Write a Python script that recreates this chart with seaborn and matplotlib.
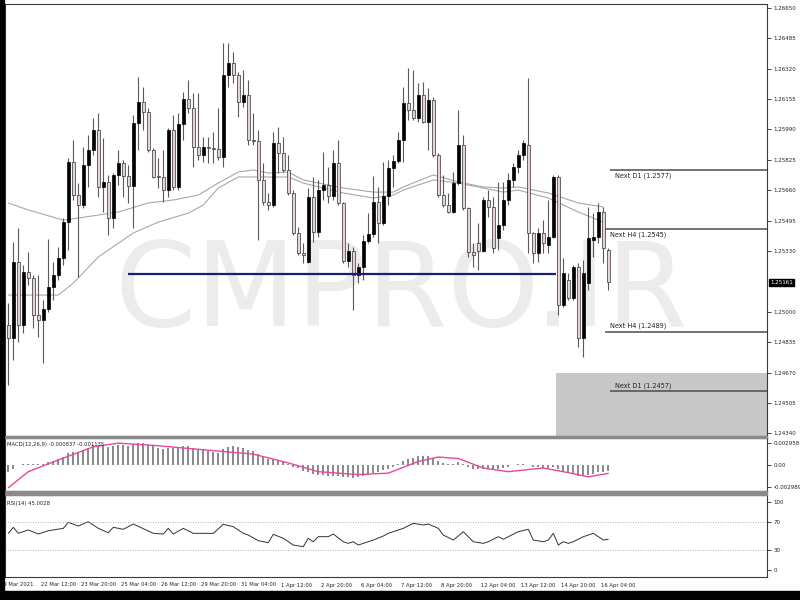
import numpy as np
import matplotlib
matplotlib.use("Agg")
import matplotlib.pyplot as plt
import matplotlib.transforms as mtransforms
from matplotlib import font_manager
from matplotlib.patches import Rectangle
import seaborn as sns

# --- H4 candles, 19 Mar 08:00 .. 16 Apr 08:00 ---
opens = [1.24928, 1.24858, 1.25270, 1.24928, 1.25216, 1.25184, 1.24983, 1.24955, 1.25015, 1.25135,
         1.25200, 1.25292, 1.25488, 1.25813, 1.25634, 1.25580, 1.25797, 1.25878, 1.25987, 1.25678,
         1.25705, 1.25509, 1.25743, 1.25808, 1.25737, 1.25683, 1.26025, 1.26139, 1.26085, 1.25878,
         1.25737, 1.25732, 1.25661, 1.25987, 1.25678, 1.26020, 1.26155, 1.26107, 1.25895, 1.25851,
         1.25895, 1.25889, 1.25884, 1.25841, 1.26286, 1.26351, 1.26286, 1.26139, 1.26177, 1.25933,
         1.25927, 1.25716, 1.25596, 1.25580, 1.25917, 1.25862, 1.25770, 1.25645, 1.25428, 1.25319,
         1.25270, 1.25623, 1.25433, 1.25661, 1.25688, 1.25629, 1.25808, 1.25591, 1.25276, 1.25330,
         1.25200, 1.25243, 1.25384, 1.25422, 1.25596, 1.25482, 1.25629, 1.25781, 1.25819, 1.25933,
         1.26134, 1.26096, 1.26052, 1.26177, 1.26031, 1.26150, 1.25851, 1.25634, 1.25580, 1.25542,
         1.25699, 1.25906, 1.25564, 1.25325, 1.25373, 1.25330, 1.25607, 1.25569, 1.25401, 1.25471,
         1.25607, 1.25716, 1.25786, 1.25851, 1.25906, 1.25428, 1.25319, 1.25428, 1.25363, 1.25406,
         1.25732, 1.25037, 1.25173, 1.25075, 1.25243, 1.24858, 1.25156, 1.25390, 1.25406, 1.25542, 1.25336]
highs = [1.25048, 1.25379, 1.25455, 1.25254, 1.25325, 1.25200, 1.25200, 1.25064, 1.25395, 1.25270,
         1.25352, 1.25509, 1.25835, 1.25933, 1.25699, 1.25895, 1.25960, 1.26052, 1.26079, 1.25944,
         1.25743, 1.25754, 1.25878, 1.25824, 1.25797, 1.26069, 1.26275, 1.26221, 1.26107, 1.25889,
         1.25835, 1.25878, 1.25998, 1.26069, 1.26079, 1.26193, 1.26259, 1.26188, 1.26188, 1.25949,
         1.25949, 1.25976, 1.26107, 1.26460, 1.26460, 1.26411, 1.26302, 1.26313, 1.26259, 1.26079,
         1.25987, 1.25808, 1.25645, 1.25976, 1.26003, 1.25949, 1.25851, 1.25661, 1.25460, 1.25373,
         1.25672, 1.25732, 1.25716, 1.25868, 1.25786, 1.25878, 1.25933, 1.25596, 1.25373, 1.25352,
         1.25265, 1.25417, 1.25537, 1.25737, 1.25678, 1.25813, 1.25824, 1.25851, 1.25976, 1.26221,
         1.26324, 1.26313, 1.26242, 1.26248, 1.26215, 1.26166, 1.25862, 1.25743, 1.25645, 1.25759,
         1.26096, 1.25960, 1.25569, 1.25373, 1.25482, 1.25623, 1.25661, 1.25623, 1.25705, 1.25705,
         1.25754, 1.25808, 1.25878, 1.25933, 1.26270, 1.25433, 1.25455, 1.25498, 1.25607, 1.25743,
         1.25743, 1.25292, 1.25211, 1.25254, 1.25265, 1.25281, 1.25569, 1.25537, 1.25591, 1.25569, 1.25347]
lows = [1.24602, 1.24738, 1.24836, 1.24885, 1.25145, 1.24912, 1.24863, 1.24722, 1.24999, 1.25064,
        1.25173, 1.25254, 1.25336, 1.25607, 1.25189, 1.25564, 1.25678, 1.25851, 1.25623, 1.25542,
        1.25417, 1.25455, 1.25688, 1.25623, 1.25591, 1.25455, 1.25878, 1.25987, 1.25868, 1.25727,
        1.25672, 1.25596, 1.25623, 1.25661, 1.25661, 1.25933, 1.26079, 1.25786, 1.25824, 1.25813,
        1.25808, 1.25808, 1.25824, 1.25786, 1.26221, 1.26242, 1.26058, 1.26112, 1.25906, 1.25906,
        1.25390, 1.25580, 1.25553, 1.25569, 1.25754, 1.25759, 1.25634, 1.25417, 1.25308, 1.25265,
        1.25265, 1.25379, 1.25406, 1.25607, 1.25591, 1.25607, 1.25580, 1.25265, 1.25243, 1.25010,
        1.25156, 1.25173, 1.25373, 1.25406, 1.25373, 1.25471, 1.25580, 1.25678, 1.25808, 1.25813,
        1.26041, 1.26041, 1.26031, 1.26025, 1.25878, 1.25841, 1.25623, 1.25569, 1.25537, 1.25537,
        1.25688, 1.25553, 1.25298, 1.25243, 1.25227, 1.25325, 1.25515, 1.25319, 1.25336, 1.25444,
        1.25580, 1.25678, 1.25754, 1.25824, 1.25319, 1.25265, 1.25270, 1.25319, 1.25319, 1.25401,
        1.24983, 1.25026, 1.25064, 1.25064, 1.24809, 1.24755, 1.25118, 1.25298, 1.25373, 1.25265, 1.25118]
closes = [1.24858, 1.25270, 1.24928, 1.25216, 1.25184, 1.24983, 1.24955, 1.25015, 1.25135, 1.25200,
          1.25292, 1.25488, 1.25813, 1.25634, 1.25580, 1.25797, 1.25878, 1.25987, 1.25678, 1.25705,
          1.25509, 1.25743, 1.25808, 1.25737, 1.25683, 1.26025, 1.26139, 1.26085, 1.25878, 1.25732,
          1.25732, 1.25661, 1.25987, 1.25678, 1.26020, 1.26155, 1.26107, 1.25895, 1.25851, 1.25895,
          1.25889, 1.25884, 1.25841, 1.26286, 1.26351, 1.26286, 1.26139, 1.26177, 1.25933, 1.25927,
          1.25716, 1.25596, 1.25580, 1.25917, 1.25862, 1.25770, 1.25645, 1.25428, 1.25319, 1.25308,
          1.25623, 1.25433, 1.25661, 1.25688, 1.25629, 1.25808, 1.25591, 1.25276, 1.25330, 1.25200,
          1.25243, 1.25384, 1.25422, 1.25596, 1.25482, 1.25629, 1.25781, 1.25819, 1.25933, 1.26134,
          1.26096, 1.26052, 1.26177, 1.26031, 1.26150, 1.25851, 1.25634, 1.25580, 1.25542, 1.25699,
          1.25906, 1.25564, 1.25325, 1.25308, 1.25330, 1.25607, 1.25569, 1.25347, 1.25471, 1.25607,
          1.25716, 1.25786, 1.25851, 1.25917, 1.25428, 1.25319, 1.25428, 1.25373, 1.25406, 1.25732,
          1.25037, 1.25211, 1.25075, 1.25243, 1.24858, 1.25211, 1.25401, 1.25406, 1.25542, 1.25347, 1.25161]

# two moving averages (vertices: candle index, price)
ma_upper_idx = [0, 4, 11, 14, 22, 28, 33, 38, 42, 46, 49, 52, 56, 59, 67, 73, 77, 79, 85, 90, 95, 99, 102, 108, 114, 119]
ma_upper = [1.25591, 1.25553, 1.25498, 1.25509, 1.25542, 1.25591, 1.25607, 1.25634, 1.25699, 1.25759, 1.25770, 1.25753,
            1.25759, 1.25716, 1.25672, 1.25650, 1.25650, 1.25678, 1.25743, 1.25705, 1.25678, 1.25672, 1.25678,
            1.25645, 1.25591, 1.25569]
ma_lower_idx = [0, 10, 13, 18, 25, 30, 36, 39, 42, 46, 49, 52, 56, 59, 67, 73, 77, 79, 85, 90, 95, 99, 102, 108, 114, 119]
ma_lower = [1.25091, 1.25091, 1.25156, 1.25298, 1.25428, 1.25487, 1.25536, 1.25580, 1.25672, 1.25732, 1.25732, 1.25732,
            1.25732, 1.25699, 1.25645, 1.25618, 1.25634, 1.25661, 1.25716, 1.25699, 1.25672, 1.25650, 1.25661,
            1.25618, 1.25542, 1.25487]

# MACD(12,26,9): main (histogram) per candle, signal vertices
macd_hist = [-0.00100, -0.00060, 0.00005, 0.00010, 0.00020, 0.00010, 0.00010, 0.00020, 0.00040, 0.00060,
             0.00080, 0.00110, 0.00160, 0.00180, 0.00180, 0.00210, 0.00240, 0.00270, 0.00260, 0.00260,
             0.00250, 0.00260, 0.00270, 0.00270, 0.00260, 0.00290, 0.00300, 0.00300, 0.00280, 0.00260,
             0.00240, 0.00220, 0.00240, 0.00230, 0.00250, 0.00260, 0.00260, 0.00240, 0.00220, 0.00200,
             0.00190, 0.00180, 0.00170, 0.00220, 0.00250, 0.00260, 0.00250, 0.00240, 0.00210, 0.00190,
             0.00150, 0.00110, 0.00080, 0.00080, 0.00070, 0.00050, 0.00020, -0.00020, -0.00040, -0.00080,
             -0.00100, -0.00120, -0.00130, -0.00140, -0.00150, -0.00150, -0.00150, -0.00160, -0.00160, -0.00170,
             -0.00160, -0.00150, -0.00130, -0.00110, -0.00090, -0.00070, -0.00050, -0.00020, 0.00010, 0.00050,
             0.00080, 0.00100, 0.00120, 0.00120, 0.00130, 0.00100, 0.00060, 0.00030, 0.00010, 0.00010,
             0.00040, 0.00020, -0.00020, -0.00050, -0.00060, -0.00050, -0.00050, -0.00070, -0.00060, -0.00040,
             -0.00020, 0.00000, 0.00010, 0.00020, 0.00000, -0.00020, -0.00030, -0.00040, -0.00040, -0.00020,
             -0.00060, -0.00080, -0.00100, -0.00110, -0.00150, -0.00150, -0.00130, -0.00120, -0.00100, -0.00090, -0.000837]
signal_idx = [0, 4, 10, 17, 22, 29, 39, 49, 56, 62, 70, 76, 82, 86, 90, 95, 100, 107, 111, 116, 120]
signal = [-0.0031, -0.0009, 0.0007, 0.0025, 0.0030, 0.0027, 0.0021, 0.0015, 0.0003, -0.0009, -0.0013,
          -0.0011, 0.0005, 0.0011, 0.0009, -0.0004, -0.0009, -0.0004, -0.0009, -0.0016, -0.001135]

# RSI(14) vertices
rsi_idx = [0, 1, 2, 4, 6, 8, 11, 12, 14, 16, 18, 20, 21, 23, 25, 29, 31, 32, 33, 35, 37, 41, 43, 45, 47, 48,
           50, 52, 53, 55, 57, 59, 60, 61, 62, 64, 65, 67, 68, 69, 70, 73, 75, 76, 79, 81, 83, 84, 86, 87,
           89, 90, 91, 93, 95, 96, 98, 99, 100, 102, 104, 105, 107, 108, 109, 110, 111, 112, 113, 115, 116,
           117, 118, 119, 120]
rsi = [53.7, 62.5, 53.7, 58.6, 52.7, 57.5, 61.0, 69.8, 64.4, 70.7, 61.0, 54.6, 62.5, 59.6, 67.3, 53.7, 52.7,
       61.0, 52.7, 61.0, 53.7, 53.7, 66.9, 63.4, 53.7, 51.2, 42.9, 40.0, 52.3, 46.4, 36.6, 34.1, 46.4, 41.4,
       48.8, 48.8, 52.7, 41.4, 39.0, 41.4, 36.6, 43.9, 49.8, 53.7, 61.0, 68.4, 65.9, 67.3, 61.0, 51.2, 43.9,
       49.8, 56.1, 41.4, 39.0, 41.4, 48.8, 45.0, 48.8, 56.1, 59.6, 43.9, 41.4, 43.9, 53.7, 36.6, 41.4, 39.0,
       41.4, 48.8, 51.2, 53.7, 48.8, 43.9, 45.0028]

price_ticks = [1.26650, 1.26485, 1.26320, 1.26155, 1.25990, 1.25825, 1.25660, 1.25495, 1.25330,
               1.25000, 1.24835, 1.24670, 1.24505, 1.24340]
time_labels = ["22 Mar 12:00", "23 Mar 20:00", "25 Mar 04:00", "26 Mar 12:00", "29 Mar 20:00",
               "31 Mar 04:00", "1 Apr 12:00", "2 Apr 20:00", "6 Apr 04:00", "7 Apr 12:00",
               "8 Apr 20:00", "12 Apr 04:00", "13 Apr 12:00", "14 Apr 20:00", "16 Apr 04:00"]
time_label_idx = [7, 15, 23, 31, 39, 47, 55, 63, 71, 79, 87, 95, 103, 111, 119]

levels = [1.2577, 1.2545, 1.2489, 1.2457]
level_names = ["Next D1 (1.2577)", "Next H4 (1.2545)", "Next H4 (1.2489)", "Next D1 (1.2457)"]
support = 1.25205
last_price = 1.25161

sns.set_theme(style="white")
names = {f.name for f in font_manager.fontManager.ttflist}
NARROW = "Liberation Sans Narrow" if "Liberation Sans Narrow" in names else "DejaVu Sans"
k = 1.0 if NARROW != "DejaVu Sans" else 0.75
plt.rcParams["font.family"] = [NARROW, "DejaVu Sans"]

n = len(closes)
idx = np.arange(n)
o, h, l, c = map(np.array, (opens, highs, lows, closes))
bull = c >= o

fig = plt.figure(figsize=(8, 6), dpi=100)
fig.patch.set_facecolor("white")
ax = fig.add_axes([5 / 800, 1 - 436 / 600, 762 / 800, 432 / 600])
ax_m = fig.add_axes([5 / 800, 1 - 491 / 600, 762 / 800, 53 / 600])
ax_r = fig.add_axes([5 / 800, 1 - 577 / 600, 762 / 800, 82 / 600])
xlim = (-0.66, 151.74)

# watermark
ax.text(0.52, 0.33, "CMPRO.IR", transform=ax.transAxes, ha="center", va="center",
        fontsize=112 * k, color="#ececec", zorder=0)

# candles
ax.vlines(idx, l, h, color="#5a5a5a", lw=0.8, zorder=2)
body_lo = np.minimum(o, c)
body_h = np.maximum(np.abs(c - o), 0.00003)
ax.bar(idx[bull], body_h[bull], bottom=body_lo[bull], width=0.62, color="black",
       edgecolor="black", lw=0.5, zorder=3)
ax.bar(idx[~bull], body_h[~bull], bottom=body_lo[~bull], width=0.62, color="#e4d4d4",
       edgecolor="#333333", lw=0.5, zorder=3)

sns.lineplot(x=ma_upper_idx, y=ma_upper, ax=ax, color="#a8a8a8", lw=0.8, zorder=1)
sns.lineplot(x=ma_lower_idx, y=ma_lower, ax=ax, color="#a8a8a8", lw=0.8, zorder=1)

# support line and target zones
ax.hlines(support, 23.9, 109.5, color="#1c1c78", lw=1.6, zorder=4)
ax.add_patch(Rectangle((109.5, 1.2430), xlim[1] - 109.5, 1.24668 - 1.2430, color="#c8c8c8", lw=0, zorder=0.5))
starts = [120.3, 119.3, 119.3, 120.3]
text_y = [-0.00034, -0.00034, 0.00034, 0.00031]
for lv, name, x0, dy in zip(levels, level_names, starts, text_y):
    ax.hlines(lv, x0, xlim[1], color="#4d4d4d", lw=1.1, zorder=4)
    ax.text(x0 + 1.0, lv + dy, name, ha="left", va="center", fontsize=6.3 * k, color="#222222", zorder=5)

ax.set_xlim(*xlim)
ax.set_ylim(1.24326, 1.26671)
ax.set_yticks(price_ticks)
ax.set_yticklabels([f"{t:.5f}" for t in price_ticks])
ax.annotate(f"{last_price:.5f}", xy=(1, last_price), xycoords=("axes fraction", "data"),
            xytext=(3, 0), textcoords="offset pixels", ha="left", va="center",
            fontsize=5.3 * k, color="white",
            bbox=dict(boxstyle="square,pad=0.2", fc="black", ec="black"))

# MACD panel
ax_m.bar(idx, macd_hist, width=0.38, color="#8c8c8c", lw=0)
sns.lineplot(x=signal_idx, y=signal, ax=ax_m, color="#e8489a", lw=1.0)
ax_m.set_xlim(*xlim)
ax_m.set_ylim(-0.003541, 0.003705)
ax_m.set_yticks([0.002958, 0.0, -0.002989])
ax_m.set_yticklabels(["0.002958", "0.00", "-0.002989"])
ax_m.text(0.002, 0.88, "MACD(12,26,9) -0.000837 -0.001135", transform=ax_m.transAxes,
          fontsize=5 * k, ha="left", va="center", color="#222222")

# RSI panel
sns.lineplot(x=rsi_idx, y=rsi, ax=ax_r, color="#333333", lw=0.7)
for lv in (70, 30):
    ax_r.axhline(lv, color="#9a9a9a", lw=0.6, ls=(0, (1, 2)))
ax_r.set_xlim(*xlim)
ax_r.set_ylim(-10.2, 109.8)
ax_r.set_yticks([100, 70, 30, 0])
ax_r.text(0.002, 0.9, "RSI(14) 45.0028", transform=ax_r.transAxes,
          fontsize=5 * k, ha="left", va="center", color="#222222")

for a in (ax, ax_m, ax_r):
    a.set_xlabel("")
    a.set_ylabel("")
    a.yaxis.tick_right()
    a.tick_params(axis="y", direction="out", length=3, width=0.6, pad=1.5,
                  labelsize=5.3 * k, colors="#222222")
    a.set_xticks([])
    for s in a.spines.values():
        s.set_color("#3a3a3a")
        s.set_linewidth(0.8)
    if a.get_legend():
        a.get_legend().remove()

# time axis
ax_r.set_xticks(time_label_idx)
ax_r.tick_params(axis="x", direction="out", length=2, width=0.6, labelbottom=False, colors="#222222")
tr = mtransforms.blended_transform_factory(ax_r.transData, fig.transFigure)
ax_r.text(-1.66, 1 - 585 / 600, "19 Mar 2021", transform=tr, ha="left", va="center",
          fontsize=5 * k, color="#222222", clip_on=False)
for lab, i in zip(time_labels, time_label_idx):
    ax_r.text(i - 0.45, 1 - 585 / 600, lab, transform=tr, ha="left", va="center",
              fontsize=5 * k, color="#222222", clip_on=False)

# panel separators and window frame
fig.patches.append(Rectangle((5 / 800, 1 - 438 / 600), 762 / 800, 2 / 600, transform=fig.transFigure,
                             color="#8a8a8a", zorder=10))
fig.patches.append(Rectangle((5 / 800, 1 - 495 / 600), 762 / 800, 4 / 600, transform=fig.transFigure,
                             color="#8a8a8a", zorder=10))
fig.patches.append(Rectangle((0, 0), 4 / 800, 1, transform=fig.transFigure, color="black", zorder=20))
fig.patches.append(Rectangle((0, 0), 1, 9 / 600, transform=fig.transFigure, color="black", zorder=20))

fig.savefig("out.png", dpi=100, facecolor="white")
